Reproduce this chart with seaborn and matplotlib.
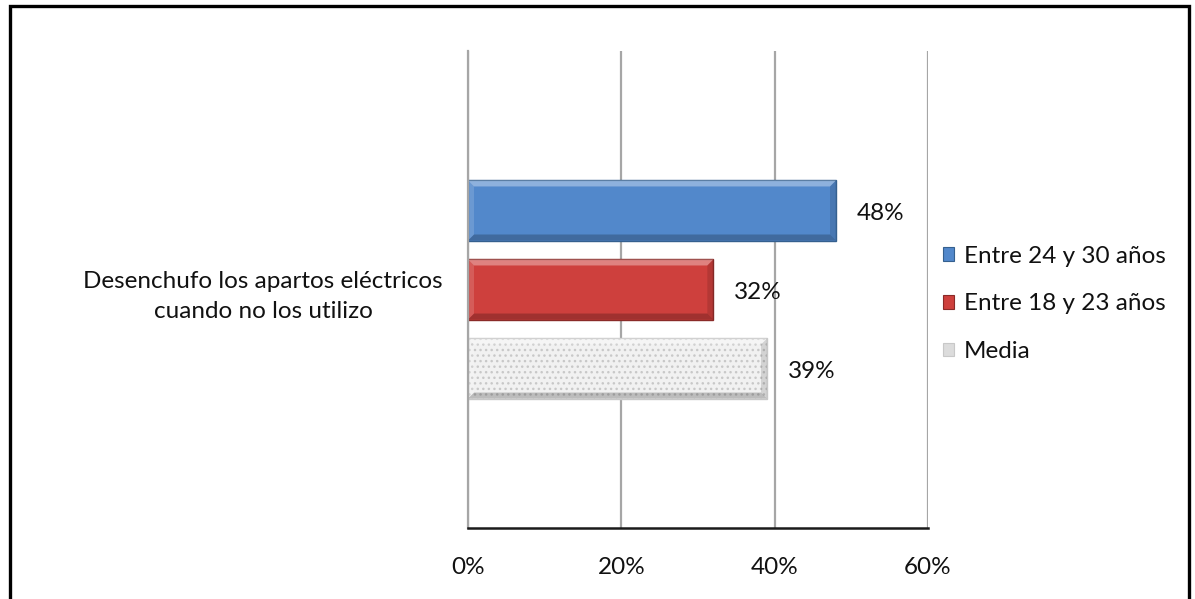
import matplotlib
matplotlib.use("Agg")
import matplotlib.pyplot as plt
from matplotlib.patches import Rectangle, Polygon
from matplotlib.ticker import PercentFormatter
import numpy as np
import pandas as pd
import seaborn as sns

# Survey item, age groups and the share of respondents in each group
categoria = ["Desenchufo los apartos eléctricos\ncuando no los utilizo"]
grupos = ["Entre 24 y 30 años", "Entre 18 y 23 años", "Media"]
valores = [0.48, 0.32, 0.39]
ticks_x = [0.0, 0.2, 0.4, 0.6]

colores = {"Entre 24 y 30 años": "#5288CB",
           "Entre 18 y 23 años": "#CE403D",
           "Media": "#F1F1F1"}
bordes = {"Entre 24 y 30 años": "#35608F",
          "Entre 18 y 23 años": "#8A2A28",
          "Media": "#C8C8C8"}

df = pd.DataFrame({"Pregunta": categoria * len(grupos),
                   "Grupo": grupos,
                   "Valor": valores})

sns.set_theme(style="white")
plt.rcParams["font.family"] = ["Lato", "DejaVu Sans"]
FS = 17.5

W, H = 1195, 599
fig = plt.figure(figsize=(W / 100, H / 100), dpi=100)
ax = fig.add_axes([468 / W, 1 - 528 / H, (928 - 468) / W, (528 - 51) / H])

sns.barplot(data=df, y="Pregunta", x="Valor", hue="Grupo", hue_order=grupos,
            palette=colores, orient="h", width=0.497, gap=0.24,
            legend=True, ax=ax, saturation=1)

ax.set_xlim(0, 0.6)
ax.set_ylim(0.5, -0.5)
ax.set_xticks(ticks_x)
ax.xaxis.set_major_formatter(PercentFormatter(1.0, decimals=0))
ax.set_xlabel("")
ax.set_ylabel("")

# Grid and axis lines
ax.grid(axis="x", color="#A6A6A6", linewidth=1.6)
ax.grid(axis="y", visible=False)
ax.set_axisbelow(True)
for s in ("top", "right"):
    ax.spines[s].set_visible(False)
ax.spines["left"].set_color("#A6A6A6")
ax.spines["left"].set_linewidth(1.6)
ax.spines["bottom"].set_color("#1A1A1A")
ax.spines["bottom"].set_linewidth(1.8)

ax.tick_params(axis="x", length=0, pad=21, labelsize=FS, labelcolor="#111111")
ax.tick_params(axis="y", length=0, pad=18, labelsize=FS, labelcolor="#111111")
for lab in ax.get_yticklabels():
    lab.set_multialignment("center")
    lab.set_linespacing(1.58)

# Bar edges, texture on the average bar and bevel shading
fig.canvas.draw()
to_disp = ax.transData.transform
to_data = ax.transData.inverted().transform
for grupo, cont in zip(grupos, ax.containers):
    for bar in cont:
        bar.set_edgecolor(bordes[grupo])
        bar.set_linewidth(1.0)
        if grupo == "Media":
            bar.set_hatch("...")
        x0, y0 = bar.get_x(), bar.get_y()
        x1, y1 = x0 + bar.get_width(), y0 + bar.get_height()
        (px0, py_a), (px1, py_b) = to_disp([(x0, y0), (x1, y1)])
        top, bot = max(py_a, py_b), min(py_a, py_b)
        b = 6
        shade = [
            ([(px0, top), (px1, top), (px1 - b, top - b), (px0 + b, top - b)], "white", 0.35),
            ([(px0, bot), (px1, bot), (px1 - b, bot + b), (px0 + b, bot + b)], "black", 0.22),
            ([(px1, top), (px1, bot), (px1 - b, bot + b), (px1 - b, top - b)], "black", 0.12),
            ([(px0, top), (px0, bot), (px0 + b, bot + b), (px0 + b, top - b)], "white", 0.15),
        ]
        for pts, col, a in shade:
            ax.add_patch(Polygon(to_data(pts), closed=True, facecolor=col,
                                 edgecolor="none", alpha=a, zorder=bar.get_zorder() + 0.1))

# Value labels next to each bar
for cont in ax.containers:
    anns = ax.bar_label(cont, labels=[f"{v:.0%}" for v in cont.datavalues],
                        padding=15, fontsize=FS, color="#111111")
    for a in anns:
        a.xyann = (a.xyann[0], -2)

# Legend on the right
leg = ax.legend(loc="center left", bbox_to_anchor=(943 / W, 1 - 304 / H),
                bbox_transform=fig.transFigure, frameon=False, fontsize=FS,
                handlelength=0.47, handleheight=0.47, handletextpad=0.4,
                labelspacing=1.1, borderpad=0, borderaxespad=0, title=None)
for txt in leg.get_texts():
    txt.set_color("#111111")
for h, grupo in zip(leg.legend_handles, grupos):
    h.set_edgecolor(bordes[grupo])
    h.set_linewidth(0.8)
    if grupo == "Media":
        h.set_facecolor("#DCDCDC")

# Outer frame around the chart
fig.add_artist(Rectangle((10 / W, -0.1), (1189 - 10) / W, 1.1 - 6 / H,
                         transform=fig.transFigure, facecolor="none",
                         edgecolor="black", linewidth=2.4))

fig.savefig("out.png", dpi=100)
